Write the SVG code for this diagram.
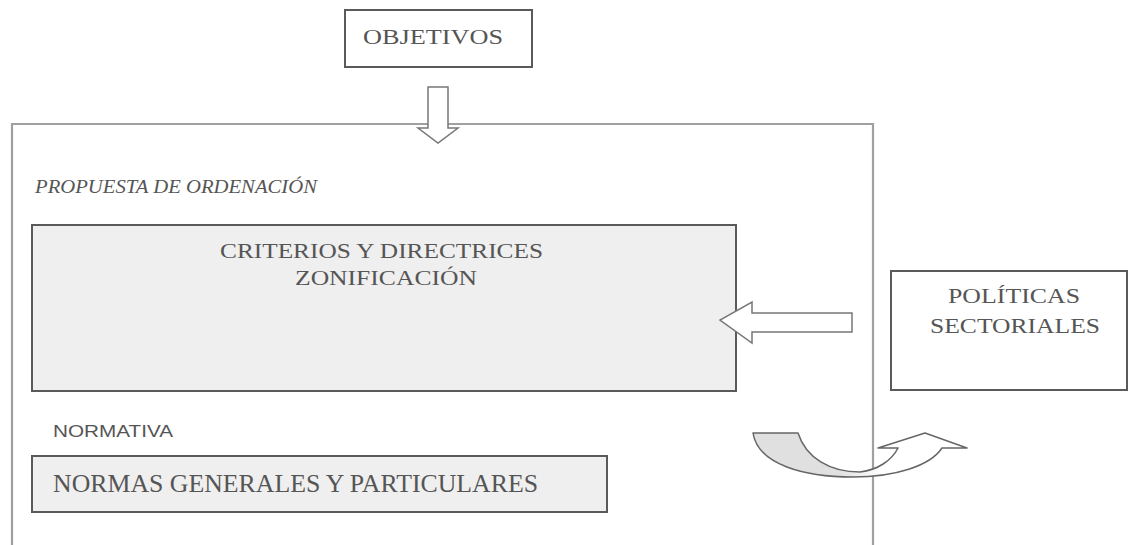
<svg xmlns="http://www.w3.org/2000/svg" width="1129" height="545" viewBox="0 0 1129 545">
<style>
.serif{font-family:"Liberation Serif","Times New Roman",serif;fill:#555}
.sans{font-family:"Liberation Sans",Arial,sans-serif;fill:#555}
.box{stroke:#5a5a5a;stroke-width:2}
.arrow{fill:#fff;stroke:#777;stroke-width:1.5}
</style>
<defs>
<linearGradient id="curveGrad" x1="753" y1="0" x2="967" y2="0" gradientUnits="userSpaceOnUse">
<stop offset="0" stop-color="#e0e0e0"/>
<stop offset="0.4" stop-color="#e0e0e0"/>
<stop offset="0.6" stop-color="#ffffff"/>
<stop offset="1" stop-color="#ffffff"/>
</linearGradient>
</defs>
<rect width="1129" height="545" fill="#fff"/>

<g id="frame">
<path d="M12,545 V124 H873 V545" fill="none" stroke="#a0a0a0" stroke-width="2.2"/>
<text class="serif" x="35" y="193" font-size="19" font-style="italic" fill="#666" textLength="282" lengthAdjust="spacingAndGlyphs">PROPUESTA DE ORDENACIÓN</text>
<text class="sans" x="53" y="437" font-size="17" textLength="120" lengthAdjust="spacingAndGlyphs">NORMATIVA</text>
</g>

<g id="objetivos">
<rect class="box" x="345" y="10" width="187" height="57" fill="#fff"/>
<text class="serif" x="363" y="44" font-size="22" textLength="140" lengthAdjust="spacingAndGlyphs">OBJETIVOS</text>
</g>

<g id="criterios">
<rect class="box" x="32" y="225" width="704" height="166" fill="#efefef"/>
<text class="serif" x="220" y="258" font-size="22" textLength="323" lengthAdjust="spacingAndGlyphs">CRITERIOS Y DIRECTRICES</text>
<text class="serif" x="295" y="285" font-size="22" textLength="182" lengthAdjust="spacingAndGlyphs">ZONIFICACIÓN</text>
</g>

<g id="politicas">
<rect class="box" x="891" y="271" width="236" height="119" fill="#fff"/>
<text class="serif" x="948" y="303" font-size="22" textLength="132" lengthAdjust="spacingAndGlyphs">POLÍTICAS</text>
<text class="serif" x="930" y="333" font-size="22" textLength="170" lengthAdjust="spacingAndGlyphs">SECTORIALES</text>
</g>

<g id="normas">
<rect class="box" x="32" y="456" width="575" height="56" fill="#efefef"/>
<text class="serif" x="53" y="492" font-size="25" textLength="485" lengthAdjust="spacingAndGlyphs">NORMAS GENERALES Y PARTICULARES</text>
</g>

<g id="connectors">
<path class="arrow" d="M428,87 H448 V128 H458 L438,143 L418,128 H428 Z"/>
<path class="arrow" d="M852,313 V332 H752 V343 L720,320 L752,302 V313 Z"/>
<path d="M753,433 H798 C806,458 830,472 860,472 C878,470 892,460 898,448 H878 L925,433 L967,448 H942 C930,466 895,477 853,477 C805,477 758,465 753,433 Z" fill="url(#curveGrad)" stroke="#666" stroke-width="1.5" stroke-linejoin="round"/>
</g>
</svg>
